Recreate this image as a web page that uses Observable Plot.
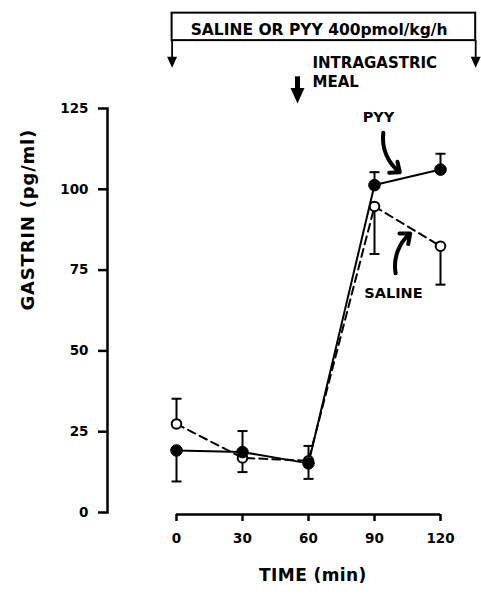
<!DOCTYPE html>
<html>
<head>
<meta charset="utf-8">
<script src="https://cdn.jsdelivr.net/npm/d3@7"></script>
<script src="https://cdn.jsdelivr.net/npm/@observablehq/plot@0.6"></script>
<style>
  html, body { margin: 0; padding: 0; background: #fff; }
</style>
</head>
<body>
<div id="chart"></div>
<script>
// ---- data ----
const times = [0, 30, 60, 90, 120];
const pyyMean = [19.2, 18.7, 15.2, 101.3, 106.1];
const pyyErrEnd = [9.6, 25.2, 10.4, 105.3, 111.0];
const salineMean = [27.4, 16.9, 16.0, 94.7, 82.4];
const salineErrEnd = [35.2, 12.5, 20.6, 80.0, 70.5];
const xTicks = [0, 30, 60, 90, 120];
const yTicks = [0, 25, 50, 75, 100, 125];

// ---- annotation texts & anchors (data units) ----
const bannerLabel = "SALINE OR PYY 400pmol/kg/h";
const bannerX = [-2, 136];
const bannerY = [146, 154.5];
const bannerLabelAt = [64.8, 149.3];
const infusionArrowX = [-2, 136];
const infusionArrowY = [146, 139.6];
const mealLabel = ["INTRAGASTRIC", "MEAL"];
const mealLabelX = 61.8;
const mealLabelY = [138.9, 133.0];
const mealArrowX = 55;
const mealArrowY = [134.8, 130.0];
const seriesLabels = ["PYY", "SALINE"];
const seriesLabelX = [91.8, 98.6];
const seriesLabelY = [122.2, 67.8];
const pyyPointer = {x1: 94.0, y1: 117.5, x2: 101.5, y2: 105.3};
const salinePointer = {x1: 99.6, y1: 74.0, x2: 106.2, y2: 86.3};
const xTitle = "TIME (min)";
const yTitle = "GASTRIN (pg/ml)";

const pyy = times.map((t, i) => ({t, v: pyyMean[i], e: pyyErrEnd[i]}));
const saline = times.map((t, i) => ({t, v: salineMean[i], e: salineErrEnd[i]}));

const capSymbol = {
  draw(ctx, size) {
    const r = Math.sqrt(size / Math.PI);
    ctx.moveTo(-r, 0); ctx.lineTo(r, 0);
  }
};
const downTri = {
  draw(ctx, size) {
    const r = Math.sqrt(size / Math.PI);
    ctx.moveTo(-r, -r * 0.9); ctx.lineTo(r, -r * 0.9); ctx.lineTo(0, r * 1.3); ctx.closePath();
  }
};

const font = "'DejaVu Sans', 'Liberation Sans', Arial, sans-serif";

const chart = Plot.plot({
  width: 481,
  height: 594,
  marginLeft: 107,
  marginRight: 41,
  marginTop: 108,
  marginBottom: 82,
  style: {fontFamily: font, fontWeight: "bold", fontSize: "13px", background: "white", color: "black"},
  x: {domain: [0, 120], range: [176, 440]},
  y: {domain: [0, 125], range: [512, 108]},
  marks: [
    // axes
    Plot.frame({anchor: "left", strokeWidth: 2.5}),
    Plot.axisY({ticks: yTicks, tickSize: 9, tickPadding: 10, strokeWidth: 2.5, label: null, fontSize: 13.5}),
    Plot.ruleY([0], {x1: xTicks[0], x2: xTicks[xTicks.length - 1], dy: 2, strokeWidth: 2.5}),
    Plot.axisX({ticks: xTicks, tickSize: 7, tickPadding: 12, strokeWidth: 2.5, label: null, fontSize: 13.5, dy: 2}),
    Plot.text([yTitle], {frameAnchor: "left", y: 62.5, dx: -79, rotate: -90, fontSize: 18, text: d => d}),
    Plot.text([xTitle], {frameAnchor: "bottom", x: 62, dy: 68, fontSize: 17, text: d => d}),

    // banner
    Plot.rect([0], {x1: bannerX[0], x2: bannerX[1], y1: bannerY[0], y2: bannerY[1], fill: "none", stroke: "black", strokeWidth: 2}),
    Plot.text([bannerLabel], {x: bannerLabelAt[0], y: bannerLabelAt[1], fontSize: 15.5, text: d => d}),
    Plot.ruleX(infusionArrowX, {x: d => d, y1: bannerY[0], y2: infusionArrowY[1], strokeWidth: 1.8}),
    Plot.dot(infusionArrowX, {x: d => d, y: infusionArrowY[1], symbol: downTri, r: 5, fill: "black", stroke: "none"}),

    // meal
    Plot.ruleX([mealArrowX], {x: d => d, y1: mealArrowY[0], y2: mealArrowY[1], strokeWidth: 5}),
    Plot.dot([mealArrowX], {x: d => d, y: mealArrowY[1] - 0.6, symbol: downTri, r: 7, fill: "black", stroke: "none"}),
    Plot.text(mealLabel, {x: mealLabelX, y: (d, i) => mealLabelY[i], textAnchor: "start", fontSize: 15, text: d => d}),

    // data lines
    Plot.line(saline, {x: "t", y: "v", stroke: "black", strokeWidth: 2, strokeDasharray: "8,5"}),
    Plot.line(pyy, {x: "t", y: "v", stroke: "black", strokeWidth: 2}),
    // error bars
    Plot.ruleX(saline, {x: "t", y1: "v", y2: "e", strokeWidth: 2}),
    Plot.ruleX(pyy, {x: "t", y1: "v", y2: "e", strokeWidth: 2}),
    Plot.dot(saline, {x: "t", y: "e", symbol: capSymbol, r: 5, stroke: "black", strokeWidth: 2, fill: "none"}),
    Plot.dot(pyy, {x: "t", y: "e", symbol: capSymbol, r: 5, stroke: "black", strokeWidth: 2, fill: "none"}),
    // points
    Plot.dot(saline, {x: "t", y: "v", r: 4.8, fill: "white", stroke: "black", strokeWidth: 2}),
    Plot.dot(pyy, {x: "t", y: "v", r: 5.8, fill: "black", stroke: "black", strokeWidth: 1}),

    // series labels and pointers
    Plot.text(seriesLabels, {x: (d, i) => seriesLabelX[i], y: (d, i) => seriesLabelY[i], fontSize: 14.5, text: d => d}),
    Plot.arrow([pyyPointer], {x1: "x1", y1: "y1", x2: "x2", y2: "y2", bend: -30, strokeWidth: 4, headLength: 4, headAngle: 80, stroke: "black"}),
    Plot.arrow([salinePointer], {x1: "x1", y1: "y1", x2: "x2", y2: "y2", bend: 30, strokeWidth: 4, headLength: 4, headAngle: 80, stroke: "black"})
  ]
});

document.getElementById("chart").appendChild(chart);

// letter spacing tweaks to mimic the wide original lettering
d3.select(chart).selectAll("text").each(function() {
  const t = this.textContent;
  if (t === yTitle) this.setAttribute("letter-spacing", "0.8");
  else if (t === xTitle) this.setAttribute("letter-spacing", "0.4");
});
</script>
</body>
</html>
